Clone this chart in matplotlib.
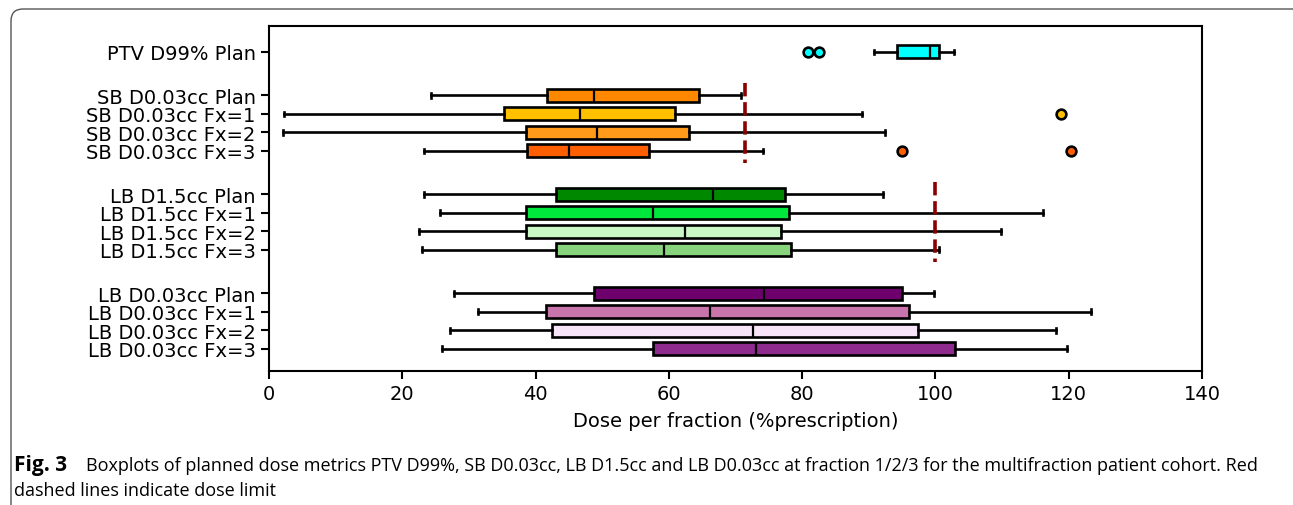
import numpy as np
import matplotlib.pyplot as plt
from matplotlib.patches import FancyBboxPatch
from matplotlib.transforms import IdentityTransform

# box statistics (% prescription)
labels = ["PTV D99% Plan",
          "SB D0.03cc Plan", "SB D0.03cc Fx=1", "SB D0.03cc Fx=2", "SB D0.03cc Fx=3",
          "LB D1.5cc Plan", "LB D1.5cc Fx=1", "LB D1.5cc Fx=2", "LB D1.5cc Fx=3",
          "LB D0.03cc Plan", "LB D0.03cc Fx=1", "LB D0.03cc Fx=2", "LB D0.03cc Fx=3"]
whislo = [90.8, 24.3, 2.2, 2.1, 23.2, 23.2, 25.7, 22.5, 23.0, 27.8, 31.4, 27.1, 26.0]
q1 = [94.2, 41.7, 35.3, 38.6, 38.7, 43.1, 38.5, 38.5, 43.1, 48.7, 41.5, 42.4, 57.7]
med = [99.2, 48.7, 46.7, 49.2, 45.0, 66.7, 57.7, 62.5, 59.3, 74.3, 66.2, 72.6, 73.1]
q3 = [100.6, 64.6, 61.0, 63.0, 57.1, 77.4, 78.1, 76.8, 78.3, 95.0, 96.0, 97.4, 103.0]
whishi = [102.8, 70.8, 89.0, 92.5, 74.2, 92.2, 116.2, 109.9, 100.5, 99.8, 123.3, 118.1, 119.7]
fliers = [[80.9, 82.5], [], [118.8], [], [95.0, 120.3],
          [], [], [], [], [], [], [], []]
colors = ["#00ffff",
          "#ff8800", "#ffc000", "#ff9a1a", "#ff5f00",
          "#008800", "#00e83c", "#c9f7c6", "#88d47c",
          "#6e006e", "#c875ac", "#f8e4f8", "#8f2a8f"]

# dose limits (red dashed lines)
sb_limit = 71.5
lb15_limit = 100.0

positions = [0, 2.35, 3.35, 4.35, 5.35, 7.7, 8.7, 9.7, 10.7,
             13.05, 14.05, 15.05, 16.05]

plt.rcParams['font.family'] = 'DejaVu Sans'
fig = plt.figure(figsize=(12.93, 5.06), dpi=100)
ax = fig.add_axes([0.208, 0.265, 0.7216, 0.6816])

stats = []
for i in range(len(labels)):
    stats.append(dict(whislo=whislo[i], q1=q1[i], med=med[i], q3=q3[i],
                      whishi=whishi[i], fliers=fliers[i], label=labels[i]))

bp = ax.bxp(stats, positions=positions, vert=False, widths=0.7,
            patch_artist=True,
            boxprops=dict(lw=1.9, edgecolor='black'),
            medianprops=dict(color='black', lw=1.6),
            whiskerprops=dict(lw=1.9),
            capprops=dict(lw=1.9),
            capwidths=0.25,
            flierprops=dict(marker='o', markersize=7, markeredgecolor='black',
                            markeredgewidth=1.9))
for patch, fl, c in zip(bp['boxes'], bp['fliers'], colors):
    patch.set_facecolor(c)
    fl.set_markerfacecolor(c)

ax.vlines(sb_limit, positions[1] - 0.65, positions[4] + 0.65,
          colors='#8b0000', linestyles='--', lw=2.6)
ax.vlines(lb15_limit, positions[5] - 0.65, positions[8] + 0.65,
          colors='#8b0000', linestyles='--', lw=2.6)

ax.set_xlim(0, 140)
ax.set_ylim(17.25, -1.4)
ax.set_xticks(np.arange(0, 141, 20))
ax.tick_params(axis='both', labelsize=14, width=1.5, length=6)
for sp in ax.spines.values():
    sp.set_linewidth(1.5)
ax.set_xlabel("Dose per fraction (%prescription)", fontsize=14, labelpad=6)

# journal frame and caption (pixel coordinates)
frame = FancyBboxPatch((11, -30), 1400, 526,
                       boxstyle="round,pad=0,rounding_size=12",
                       transform=IdentityTransform(), fill=False,
                       edgecolor='#555555', lw=1.0)
fig.patches.append(frame)
fig.text(14 / 1293, 1 - 466 / 506, "Fig. 3", fontsize=15, fontweight='bold',
         family='Open Sans', va='center', ha='left')
fig.text(86 / 1293, 1 - 466 / 506,
         "Boxplots of planned dose metrics PTV D99%, SB D0.03cc, LB D1.5cc and "
         "LB D0.03cc at fraction 1/2/3 for the multifraction patient cohort. Red",
         fontsize=13, family='Open Sans', va='center', ha='left')
fig.text(14 / 1293, 1 - 491 / 506, "dashed lines indicate dose limit",
         fontsize=13, family='Open Sans', va='center', ha='left')

fig.savefig("out.png", dpi=100)
